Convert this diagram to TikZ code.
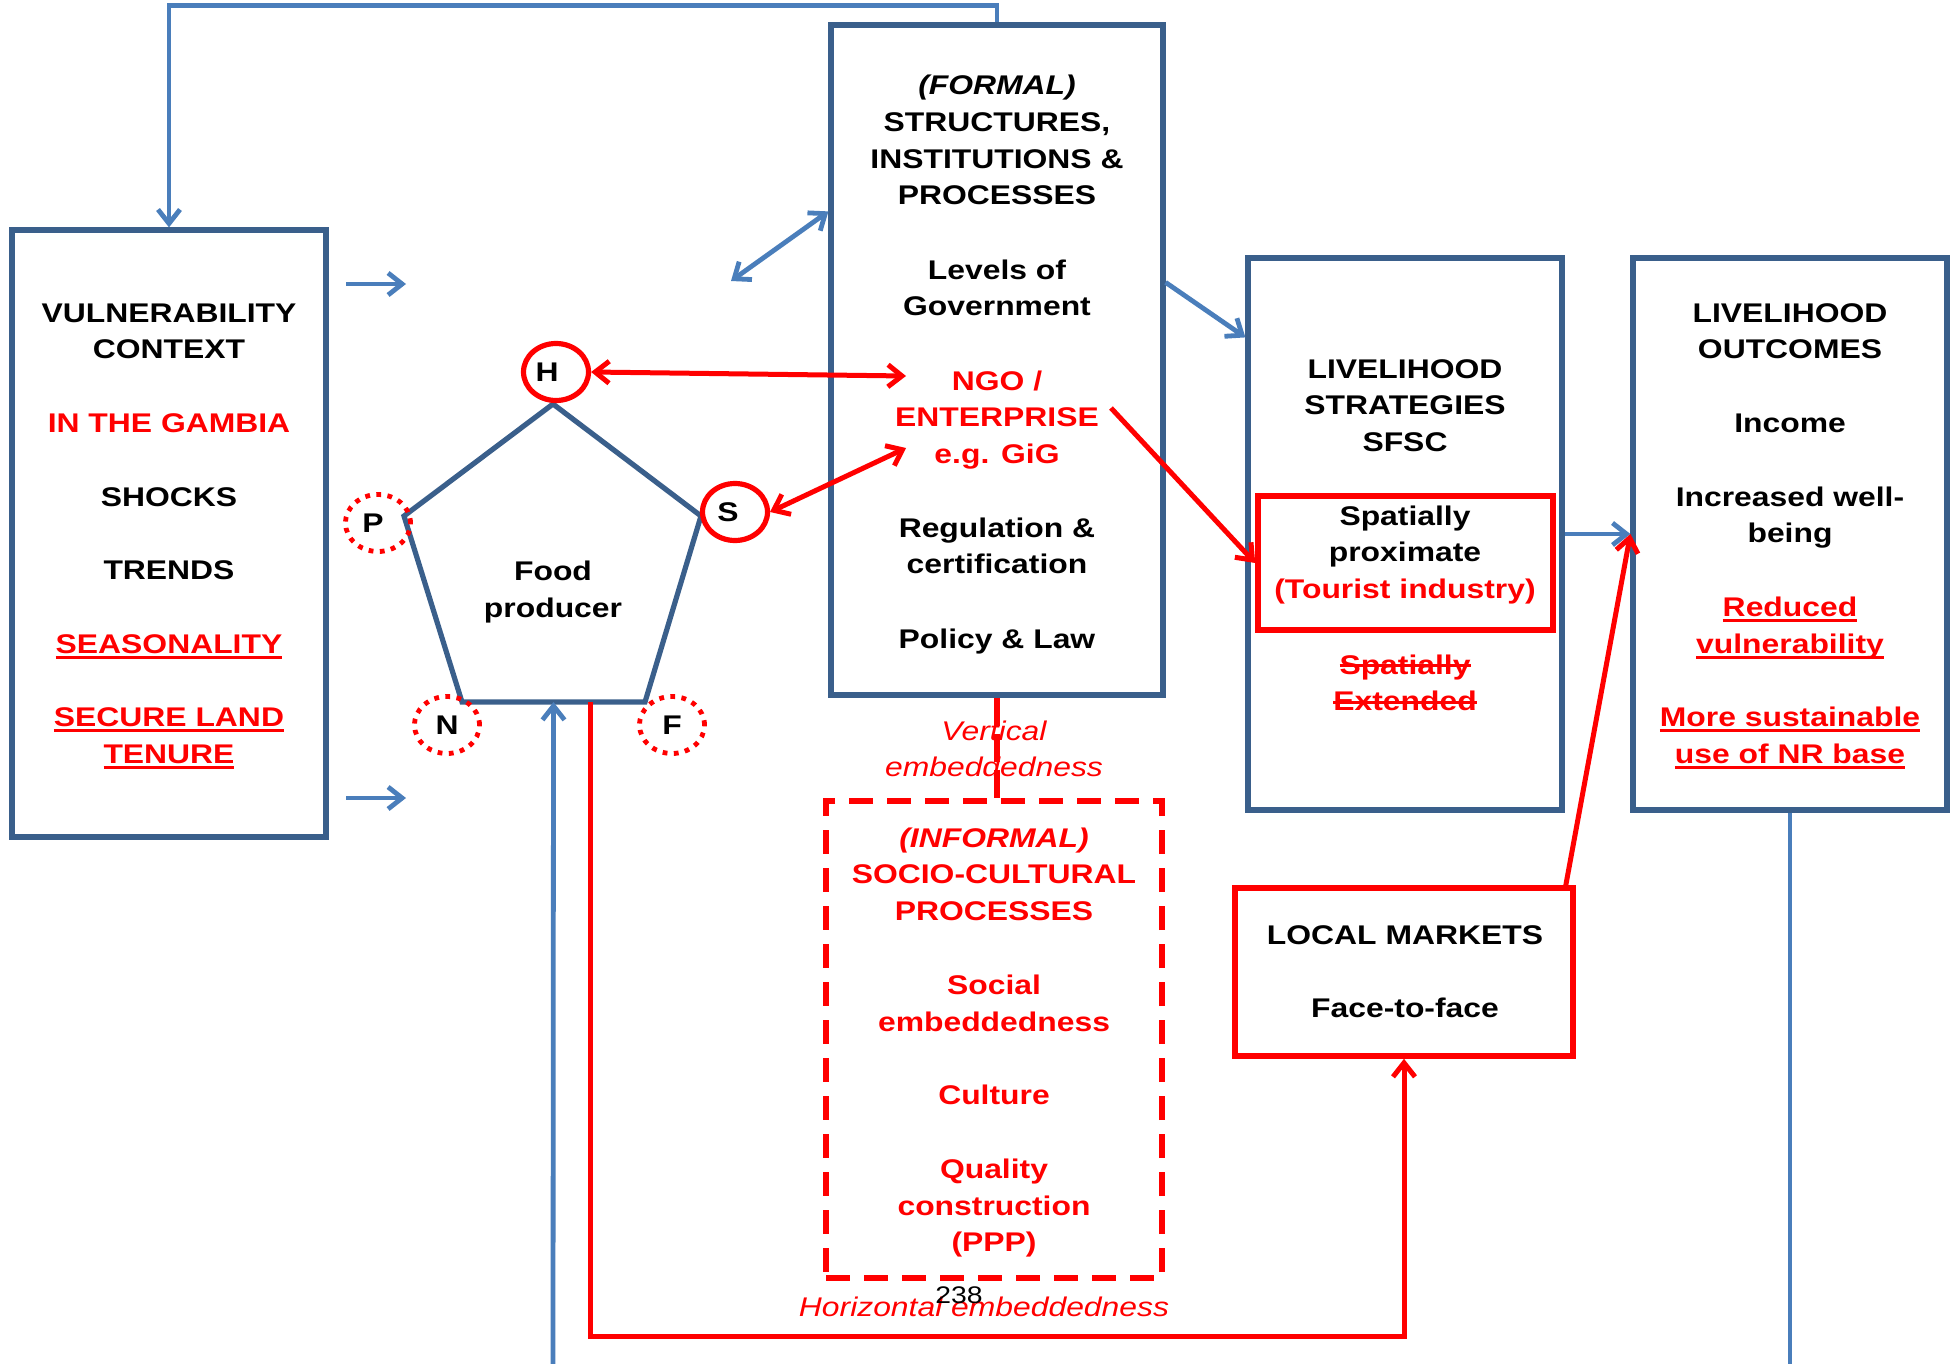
\documentclass[tikz,border=0pt]{standalone}
\usepackage{fontspec}
\setmainfont{Liberation Sans}[FakeStretch=1.18]
\usetikzlibrary{arrows.meta,shapes.geometric,calc,fit}

\definecolor{boxblue}{HTML}{3A5F8B}
\definecolor{linkblue}{HTML}{4A7EBB}
\definecolor{hot}{HTML}{FF0000}

% underlined and struck-out words
\newcommand\undl[1]{\setbox0\hbox{#1}\rlap{\rule[-2.8pt]{\wd0}{1.5pt}}\box0}
\newcommand\strk[1]{\setbox0\hbox{#1}\rlap{\rule[3.6pt]{\wd0}{1.5pt}}\box0}
\newcommand\rd[1]{\textcolor{hot}{#1}}

% text nodes are placed by the baseline of their last line
\tikzset{
  frame/.style={draw=boxblue, line width=2.6pt, inner sep=0pt},
  redframe/.style={draw=hot, line width=2.8pt, inner sep=0pt},
  lbl/.style={font=\bfseries\fontsize{13.5}{18.4}\selectfont, align=center, inner sep=0pt, anchor=base},
  note/.style={font=\itshape\fontsize{13.5}{18.4}\selectfont, text=hot, align=center, inner sep=0pt, anchor=base},
  capital/.style={ellipse, draw=hot, line width=2.6pt, inner sep=0pt, minimum width=32.5pt, minimum height=28.5pt,
                  font=\bfseries\fontsize{13.5}{18.4}\selectfont},
  weak/.style={capital, line width=2.4pt, dash pattern=on 2.4pt off 3.2pt},
  bluelink/.style={draw=linkblue, line width=2.4pt},
  redlink/.style={draw=hot, line width=2.5pt},
}

\begin{document}
\begin{tikzpicture}[x=0.5pt,y=-0.5pt, >={Straight Barb[length=7pt,width=11pt]}]
\useasboundingbox (0,0) rectangle (1953,1364);

% ---------- boxes ----------
\node[frame, fit={(12,230) (326,837)}] (vul) {};
\node[frame, fit={(831,25) (1163,695)}] (formal) {};
\node[frame, fit={(1248,258) (1562,810)}] (strat) {};
\node[frame, fit={(1633,258) (1947,810)}] (outc) {};
\node[redframe, fit={(1258,496) (1553,630)}] (prox) {};
\node[redframe, fit={(1235,888) (1573,1056)}] (mkt) {};
\node[draw=hot, line width=2.8pt, inner sep=0pt, dash pattern=on 12pt off 7pt, fit={(826,801) (1162,1278)}] (informal) {};

% ---------- asset pentagon ----------
\coordinate (pH) at (553,404);
\coordinate (pS) at (701,516);
\coordinate (pF) at (645,702);
\coordinate (pN) at (462,702);
\coordinate (pP) at (404,516);
\draw[boxblue, line width=2.6pt, line join=miter] (pH) -- (pS) -- (pF) -- (pN) -- (pP) -- cycle;
\node[lbl] (food) at (553,617) {Food\\producer};

\node[capital] (H) at (556,372) {H\kern9pt};
\node[capital] (S) at (735,512) {S\kern7pt};
\node[weak] (P) at (378,523) {P\kern5pt};
\node[weak] (N) at (447,725) {N};
\node[weak] (F) at (672,725) {F};

% ---------- texts ----------
\node[lbl] (vultxt) at (169,763.6) {VULNERABILITY\\CONTEXT\\[18.4pt]
  \rd{IN THE GAMBIA}\\[18.4pt]SHOCKS\\[18.4pt]TRENDS\\[18.4pt]
  \rd{\undl{SEASONALITY}}\\[18.4pt]\rd{\undl{SECURE LAND}}\\\rd{\undl{TENURE}}};

\node[lbl] (hdr) at (997,204.9) {\textit{(FORMAL)}\\STRUCTURES,\\INSTITUTIONS \&\\PROCESSES};
\node[lbl] (gov) at (997,315.8) {Levels of\\Government};
\node[lbl] (ngo) at (997,463.6) {\rd{NGO /}\\\rd{ENTERPRISE}\\\rd{e.g. GiG}};
\node[lbl] (reg) at (997,573.8) {Regulation \&\\certification};
\node[lbl] (law) at (997,648) {Policy \& Law};

\node[lbl] (strattxt) at (1405,451.6) {LIVELIHOOD\\STRATEGIES\\SFSC};
\node[lbl] (proxtxt) at (1405,598.6) {Spatially\\proximate\\\rd{(Tourist industry)}};
\node[lbl] (ext) at (1405,710.8) {\rd{\strk{Spatially}}\\\rd{\strk{Extended}}};

\node[lbl] (outctxt) at (1790,763.6) {LIVELIHOOD\\OUTCOMES\\[18.4pt]Income\\[18.4pt]
  Increased well-\\being\\[18.4pt]\rd{\undl{Reduced}}\\\rd{\undl{vulnerability}}\\[18.4pt]
  \rd{\undl{More sustainable}}\\\rd{\undl{use of NR base}}};

\node[lbl] (mkttxt) at (1405,1017.6) {LOCAL MARKETS\\[18.4pt]Face-to-face};

\node[lbl] (inftxt) at (994,1251.8) {\rd{\textit{(INFORMAL)}}\\\rd{SOCIO-CULTURAL}\\\rd{PROCESSES}\\[18.4pt]
  \rd{Social}\\\rd{embeddedness}\\[18.4pt]\rd{Culture}\\[18.4pt]\rd{Quality}\\\rd{construction}\\\rd{(PPP)}};

\node[note] (vert) at (994,776.8) {Vertical\\embeddedness};
\node[note] (horiz) at (984,1316) {Horizontal embeddedness};
\node[anchor=base, inner sep=0pt, font=\fontsize{12}{14}\selectfont] (pg) at (959,1303) {238};

% ---------- blue links ----------
\coordinate (vA1) at (346,284);
\coordinate (vA2) at (406,284);
\coordinate (vB1) at (346,798);
\coordinate (vB2) at (406,798);
\coordinate (dA) at (731,281);
\coordinate (bot) at (553,1364);

\draw[bluelink, ->] (formal.north) -- ++(0,-17) -| (vul.north);
\draw[bluelink, ->] (vA1) -- (vA2);
\draw[bluelink, ->] (vB1) -- (vB2);
\draw[bluelink, <->] (dA) -- ($(formal.north west)+(0,189)$);
\draw[bluelink, ->] ($(formal.north east)+(0,260)$) -- ($(strat.north west)+(0,82)$);
\draw[bluelink, ->] (strat.east) -- (outc.west);
\draw[bluelink, ->] (bot) -- ($(pN)!0.5!(pF)$);
\draw[bluelink] (outc.south) -- (outc.south |- bot);

% ---------- red links ----------
\coordinate (ngoH) at (906,376);
\coordinate (ngoS) at (906,448);
\coordinate (ngoR) at (1111,408);

\draw[redlink, <->] (H.east) -- (ngoH);
\draw[redlink, <->] (S.east) -- (ngoS);
\draw[redlink, ->] (ngoR) -- (prox.west);
\draw[redlink, ->] ($(mkt.north east)+(-10,0)$) -- (outc.west);
\draw[redlink, ->] ($(pN)!0.7!(pF)$) -- ++(0,634) -| (mkt.south);
\draw[hot, line width=2.8pt, dash pattern=on 14pt off 4pt] (formal.south) -- (formal.south |- informal.north);
\end{tikzpicture}
\end{document}
